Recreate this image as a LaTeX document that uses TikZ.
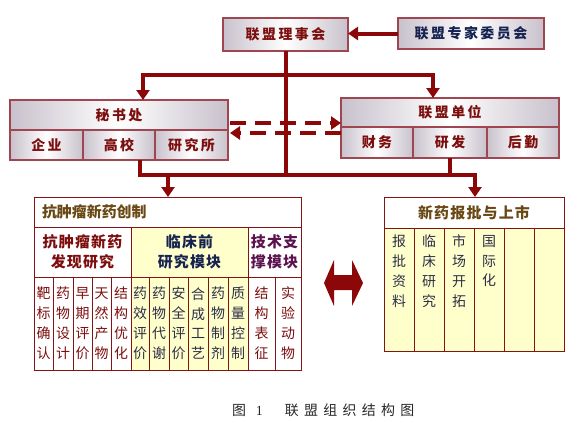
\documentclass[tikz,border=0pt]{standalone}
\usepackage{fontspec}
\setmainfont{Noto Sans CJK SC}
\newfontfamily\latinserif{Liberation Serif}
\usetikzlibrary{arrows.meta}
\definecolor{arrred}{RGB}{140,8,8}
\definecolor{maroon}{RGB}{125,14,14}
\definecolor{navy}{RGB}{22,34,80}
\definecolor{boxline}{RGB}{160,70,80}
\definecolor{cellline}{RGB}{130,20,20}
\definecolor{sidegray}{RGB}{200,193,204}
\definecolor{paleyellow}{RGB}{255,255,204}
\definecolor{olive}{RGB}{105,72,20}
\definecolor{graynavy}{RGB}{45,45,72}
\definecolor{purp}{RGB}{92,18,78}
\definecolor{capgray}{RGB}{40,40,40}
\tikzset{
  every node/.style={inner sep=0pt, outer sep=0pt},
  gbox/.style={draw=boxline, line width=1.3bp, left color=sidegray, right color=sidegray, middle color=white,
    anchor=north west, text=maroon,
    font=\fontsize{14}{16}\selectfont\bfseries\addfontfeature{LetterSpace=18}},
  cell/.style={draw=cellline, line width=1bp, anchor=north west, fill=white},
  ycell/.style={cell, fill=paleyellow},
  hdtext/.style={align=center, font=\fontsize{15}{20}\selectfont\bfseries\addfontfeature{LetterSpace=8}},
  vtext/.style={align=center, font=\fontsize{14}{20}\selectfont},
  line/.style={draw=arrred, line width=4bp},
  arr/.style={line, -{Triangle[width=13bp,length=10bp]}},
  darr/.style={arr, dash pattern=on 16bp off 9bp}
}
\begin{document}
\begin{tikzpicture}[x=1bp, y=-1bp]
\useasboundingbox (0,0) rectangle (581,422);

% top boxes
\node[gbox, minimum width=125bp, minimum height=33bp] (lsh) at (223,18) {联盟理事会};
\node[gbox, minimum width=146bp, minimum height=31bp, text=navy] (zj) at (398,18) {联盟专家委员会};

% secretariat
\node[gbox, minimum width=218bp, minimum height=30bp] (msc) at (10,100) {秘书处};
\node[gbox, minimum width=73bp, minimum height=30bp] (qy) at (10,130) {企业};
\node[gbox, minimum width=72bp, minimum height=30bp] (gx) at (83,130) {高校};
\node[gbox, minimum width=73bp, minimum height=30bp] (yjs) at (155,130) {研究所};

% member units
\node[gbox, minimum width=218bp, minimum height=29bp] (lmdw) at (341,98) {联盟单位};
\node[gbox, minimum width=72bp, minimum height=31bp] (cw) at (341,127) {财务};
\node[gbox, minimum width=74bp, minimum height=31bp] (yf) at (413,127) {研发};
\node[gbox, minimum width=72bp, minimum height=31bp] (hq) at (487,127) {后勤};

% left big box
\node[cell, minimum width=267bp, minimum height=30bp, text width=251bp, inner xsep=8bp, align=left,
  text=olive, font=\fontsize{15}{18}\selectfont\bfseries] (kz) at (34,197) {抗肿瘤新药创制};
\node[cell, minimum width=97bp, minimum height=50bp, hdtext, text=maroon] (fx) at (34,227) {抗肿瘤新药\\发现研究};
\node[ycell, minimum width=117bp, minimum height=50bp, hdtext, text=navy] (lcq) at (131,227) {临床前\\研究模块};
\node[cell, minimum width=53bp, minimum height=50bp, hdtext, text=purp] (jszc) at (248,227) {技术支\\撑模块};

\node[cell, minimum width=19bp, minimum height=93bp, vtext, text=maroon] (a1) at (34,277) {靶\\标\\确\\认};
\node[cell, minimum width=20bp, minimum height=93bp, vtext, text=maroon] (a2) at (53,277) {药\\物\\设\\计};
\node[cell, minimum width=19bp, minimum height=93bp, vtext, text=maroon] (a3) at (73,277) {早\\期\\评\\价};
\node[cell, minimum width=19bp, minimum height=93bp, vtext, text=maroon] (a4) at (92,277) {天\\然\\产\\物};
\node[cell, minimum width=20bp, minimum height=93bp, vtext, text=maroon] (a5) at (111,277) {结\\构\\优\\化};
\node[ycell, minimum width=18bp, minimum height=93bp, vtext, text=graynavy] (b1) at (131,277) {药\\效\\评\\价};
\node[ycell, minimum width=20bp, minimum height=93bp, vtext, text=graynavy] (b2) at (149,277) {药\\物\\代\\谢};
\node[ycell, minimum width=19bp, minimum height=93bp, vtext, text=graynavy] (b3) at (169,277) {安\\全\\评\\价};
\node[ycell, minimum width=20bp, minimum height=93bp, vtext, text=graynavy] (b4) at (188,277) {合\\成\\工\\艺};
\node[ycell, minimum width=20bp, minimum height=93bp, vtext, text=graynavy] (b5) at (208,277) {药\\物\\制\\剂};
\node[ycell, minimum width=20bp, minimum height=93bp, vtext, text=graynavy] (b6) at (228,277) {质\\量\\控\\制};
\node[cell, minimum width=27bp, minimum height=93bp, vtext, text=maroon] (c1) at (248,277) {结\\构\\表\\征};
\node[cell, minimum width=26bp, minimum height=93bp, vtext, text=maroon] (c2) at (275,277) {实\\验\\动\\物};

% right big box
\node[cell, minimum width=180bp, minimum height=31bp, text=olive, font=\fontsize{15}{18}\selectfont\bfseries\addfontfeature{LetterSpace=8}] (xy) at (384,197) {新药报批与上市};
\foreach \i/\x/\t in {1/384/{报\\批\\资\\料}, 2/414/{临\\床\\研\\究}, 3/444/{市\\场\\开\\拓}, 4/474/{国\\际\\化}, 5/504/{}, 6/534/{}}{
  \node[ycell, minimum width=30bp, minimum height=123bp] (r\i) at (\x,228) {};
  \node[vtext, text=graynavy, anchor=north] (rt\i) at ([yshift=-7bp]r\i.north) {\t};
}

% connectors
\coordinate (ytop) at (0,75);
\coordinate (ybot) at (0,175);
\coordinate (yda) at (0,123);
\coordinate (ydb) at (0,133);
\draw[arr] (zj.west) -- (zj.west -| lsh.east);
\draw[line, line join=miter] (lsh.south) -- (lsh.south |- ybot);
\draw[arr, line join=miter] (lsh.south |- ytop) -| ([xshift=133bp]msc.north west);
\draw[arr, line join=miter] (lsh.south |- ytop) -| ([xshift=92bp]lmdw.north west);
\draw[line, line join=miter] ([xshift=57bp]gx.south west) |- (yf.south |- ybot) -- (yf.south);
\draw[arr] ([xshift=134bp]kz.north west |- ybot) -- ([xshift=134bp]kz.north west);
\draw[arr, line join=miter] (yf.south |- ybot) -| ([xshift=91bp]xy.north west);
\draw[darr] ([xshift=2bp]msc.east |- yda) -- (lmdw.west |- yda);
\draw[darr] (cw.west |- ydb) -- ([xshift=2bp]yjs.east |- ydb);

% double arrow
\fill[arrred] (324,283) -- (334,260) -- (334,275) -- (352,275) -- (352,260) -- (363,283)
  -- (352,306) -- (352,290) -- (334,290) -- (334,306) -- cycle;

% caption
\node[anchor=west, text=capgray, font=\fontsize{14}{16}\selectfont] (cap) at (232,410)
  {图\hspace{10bp}{\latinserif 1}\hspace{22bp}\addfontfeature{LetterSpace=38}联盟组织结构图};
\end{tikzpicture}
\end{document}
